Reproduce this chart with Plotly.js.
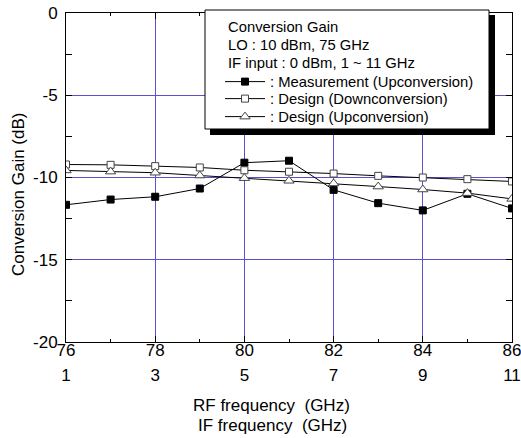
<!DOCTYPE html>
<html>
<head>
<meta charset="utf-8">
<script src="https://cdn.plot.ly/plotly-3.0.1.min.js"></script>
<style>html,body{margin:0;padding:0;background:#fff;}#chart{width:521px;height:438px;}</style>
</head>
<body>
<div id="chart"></div>
<script>
// RF frequency (GHz) and corresponding IF frequency (GHz)
const rfFreq = [76, 77, 78, 79, 80, 81, 82, 83, 84, 85, 86];
const ifFreq = [1, 2, 3, 4, 5, 6, 7, 8, 9, 10, 11];
// Conversion gain (dB)
const measUp   = [-11.66, -11.34, -11.17, -10.67, -9.10, -8.98, -10.75, -11.56, -12.00, -10.99, -11.88];
const designDown = [-9.21, -9.23, -9.31, -9.39, -9.56, -9.65, -9.76, -9.90, -10.00, -10.10, -10.24];
const designUp = [-9.57, -9.64, -9.71, -9.88, -10.04, -10.20, -10.36, -10.55, -10.73, -10.95, -11.30];
const rfTicks = [76, 78, 80, 82, 84, 86];
const ifTicks = [1, 3, 5, 7, 9, 11];
const yTicks = [0, -5, -10, -15, -20];
const legendHeader = ['Conversion Gain', 'LO : 10 dBm, 75 GHz', 'IF input : 0 dBm, 1 ~ 11 GHz'];

const FONT = 'Liberation Sans, Arial, sans-serif';
const GRID = '#5a52cc';
const LFS = 14.8;
const L = 66, R = 512, T = 13, B = 342;            // plot box in px
const px = v => (v - L) / (R - L);
const py = v => (B - v) / (B - T);

const traces = [
  {x: rfFreq, y: measUp, mode: 'lines+markers', name: ': Measurement (Upconversion)', legend: 'legend',
   line: {color: '#000', width: 1},
   marker: {symbol: 'square', size: 7, color: '#000', line: {color: '#000', width: 1}}},
  {x: rfFreq, y: designDown, mode: 'lines+markers', name: ': Design (Downconversion)', legend: 'legend2',
   line: {color: '#000', width: 1},
   marker: {symbol: 'square', size: 7, color: '#fff', line: {color: '#444', width: 1}}},
  {x: rfFreq, y: designUp, mode: 'lines+markers', name: ': Design (Upconversion)', legend: 'legend3',
   line: {color: '#000', width: 1},
   marker: {symbol: 'triangle-up', size: 9, color: '#fff', line: {color: '#444', width: 1}}},
  {x: rfFreq, y: designUp, xaxis: 'x3', mode: 'markers', showlegend: false, hoverinfo: 'skip',
   marker: {opacity: 0}},
  {x: ifFreq, y: designUp, xaxis: 'x2', mode: 'markers', showlegend: false, hoverinfo: 'skip',
   marker: {opacity: 0}}
];

const leg = (yc) => ({
  x: px(220), y: py(yc), xanchor: 'left', yanchor: 'middle',
  bgcolor: 'rgba(0,0,0,0)', borderwidth: 0,
  font: {family: FONT, size: LFS, color: '#000'}, itemwidth: 40
});

const layout = {
  width: 521, height: 438,
  margin: {l: L, r: 521 - R, t: T, b: 438 - B},
  paper_bgcolor: '#fff', plot_bgcolor: '#fff',
  font: {family: FONT, size: 17, color: '#000'},
  showlegend: true,
  xaxis: {
    range: [76, 86], tickvals: rfTicks, showticklabels: false,
    showgrid: true, gridcolor: GRID, gridwidth: 1,
    showline: true, linecolor: '#000', linewidth: 1, mirror: 'allticks',
    ticks: 'inside', ticklen: 6, tickcolor: '#000',
    minor: {dtick: 1, tick0: 76, ticks: 'inside', ticklen: 3, tickcolor: '#000', showgrid: false},
    zeroline: false
  },
  xaxis3: {
    range: [76, 86], overlaying: 'x', side: 'bottom', anchor: 'free', position: py(338),
    tickvals: rfTicks, ticktext: rfTicks.map(String), ticklabeloverflow: 'allow',
    showgrid: false, showline: false, ticks: '', zeroline: false, tickfont: {size: 17}
  },
  xaxis2: {
    range: [1, 11], overlaying: 'x', side: 'bottom', anchor: 'y',
    tickvals: ifTicks, ticktext: ifTicks.map(String), ticklabelstandoff: 21, ticklabeloverflow: 'allow',
    showgrid: false, showline: false, ticks: '', zeroline: false, tickfont: {size: 17}
  },
  yaxis: {
    range: [-20, 0], tickvals: yTicks, ticktext: yTicks.map(String),
    showgrid: true, gridcolor: GRID, gridwidth: 1,
    showline: true, linecolor: '#000', linewidth: 1, mirror: 'allticks',
    ticks: 'inside', ticklen: 6, tickcolor: '#000',
    minor: {dtick: 2.5, tick0: 0, ticks: 'inside', ticklen: 3, tickcolor: '#000', showgrid: false},
    zeroline: false, tickfont: {size: 17}, ticklabelstandoff: 4
  },
  legend: leg(82),
  legend2: leg(99),
  legend3: leg(117),
  annotations: [
    {text: 'RF frequency  (GHz)', xref: 'paper', yref: 'paper', x: px(271), y: py(405),
     xanchor: 'center', yanchor: 'middle', showarrow: false, font: {size: 17}},
    {text: 'IF frequency  (GHz)', xref: 'paper', yref: 'paper', x: px(272), y: py(425),
     xanchor: 'center', yanchor: 'middle', showarrow: false, font: {size: 17}},
    {text: 'Conversion Gain (dB)', xref: 'paper', yref: 'paper', x: px(18), y: py(195),
     xanchor: 'center', yanchor: 'middle', showarrow: false, textangle: -90, font: {size: 17}}
  ].concat(legendHeader.map((t, i) => ({
     text: t, xref: 'paper', yref: 'paper', x: px(226), y: py(27 + 18 * i),
     xanchor: 'left', yanchor: 'middle', showarrow: false, font: {size: LFS}
  }))),
  shapes: [
    {type: 'rect', xref: 'paper', yref: 'paper', layer: 'above',
     x0: px(210), x1: px(495), y0: py(135), y1: py(15),
     fillcolor: '#000', line: {width: 0}},
    {type: 'rect', xref: 'paper', yref: 'paper', layer: 'above',
     x0: px(205), x1: px(489), y0: py(129), y1: py(10),
     fillcolor: '#fff', line: {color: '#000', width: 1}}
  ]
};

Plotly.newPlot('chart', traces, layout, {staticPlot: true, displayModeBar: false});
</script>
</body>
</html>
